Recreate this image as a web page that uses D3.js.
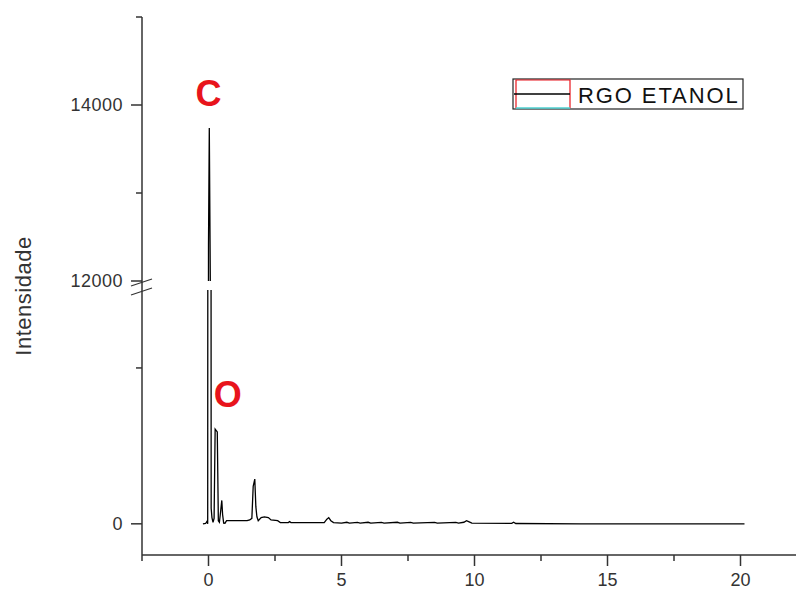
<!DOCTYPE html>
<html>
<head>
<meta charset="utf-8">
<script src="https://cdn.jsdelivr.net/npm/d3@7"></script>
<style>
  body { margin: 0; background: #fff; }
  text { font-family: "Liberation Sans", Arial, sans-serif; }
</style>
</head>
<body>
<div id="chart"></div>
<script>
// spectrum (energy, counts)
const energy = [-0.21, -0.11, -0.06, -0.03, 0.0, 0.03, 0.07, 0.1, 0.13, 0.17, 0.21, 0.25, 0.33, 0.37, 0.41, 0.44, 0.5, 0.53, 0.57, 0.62,
  0.68, 1.0, 1.45, 1.55, 1.63, 1.68, 1.74, 1.78, 1.82, 1.87, 1.98, 2.1, 2.25, 2.35, 2.6, 2.7, 3.0, 3.05, 3.1,
  4.35, 4.45, 4.52, 4.6, 4.7, 5.0, 5.2, 5.3, 5.6, 5.7, 6.0, 6.1, 6.5, 6.6, 7.1, 7.2, 7.6, 7.7, 8.5, 8.6, 9.3, 9.4,
  9.6, 9.7, 9.8, 9.9, 11.4, 11.47, 11.55, 14.0, 20.15];
const counts = [0, 2, 15, 0, 12420, 13740, 11900, 100, 40, 10, 35, 608, 590, 20, 10, 55, 150, 60, 5, 4,
  20, 20, 20, 25, 35, 240, 287, 110, 45, 20, 40, 45, 40, 25, 20, 8, 8, 14, 8,
  8, 30, 40, 20, 8, 5, 10, 4, 9, 4, 10, 4, 9, 4, 10, 4, 9, 4, 9, 4, 9, 4,
  10, 20, 12, 4, 3, 10, 2, 0, 0];

const xTicks = [0, 5, 10, 15, 20];
const xMinor = [-2.5, 2.5, 7.5, 12.5, 17.5, 22.5];
const yLowTicks = [0];
const yLowMinor = [1000];
const yUpTicks = [12000, 14000];
const yUpMinor = [13000, 15000];
const peakLabels = [{ name: "C", e: 0.0, v: 14130, seg: "up" }, { name: "O", e: 0.72, v: 830, seg: "low" }];
const seriesName = "RGO ETANOL";

const width = 796, height = 590;
const axisLeft = 142, axisBottom = 555;

const svg = d3.select("#chart").append("svg")
  .attr("width", width)
  .attr("height", height);

const x = d3.scaleLinear([-2.5, 22.5], [axisLeft, 807]);
const yLow = d3.scaleLinear([-200, 1500], [axisBottom, 290]);
const yUp = d3.scaleLinear([12000, 15000], [281, 17]);

// clip regions for the two segments of the broken axis
const defs = svg.append("defs");
defs.append("clipPath").attr("id", "clipLow")
  .append("rect").attr("x", axisLeft).attr("y", 290).attr("width", width).attr("height", axisBottom - 290);
defs.append("clipPath").attr("id", "clipUp")
  .append("rect").attr("x", axisLeft).attr("y", 17).attr("width", width).attr("height", 281 - 17);

const pts = energy.map((e, i) => [e, counts[i]]);

svg.append("path")
  .datum(pts)
  .attr("clip-path", "url(#clipLow)")
  .attr("fill", "none")
  .attr("stroke", "#000")
  .attr("stroke-width", 1.3)
  .attr("d", d3.line().x(d => x(d[0])).y(d => yLow(d[1])));

svg.append("path")
  .datum(pts)
  .attr("clip-path", "url(#clipUp)")
  .attr("fill", "none")
  .attr("stroke", "#000")
  .attr("stroke-width", 1.3)
  .attr("d", d3.line().x(d => x(d[0])).y(d => yUp(d[1])));

// axes
const axisColor = "#333";
const gx = svg.append("g").attr("transform", `translate(0,${axisBottom})`);
gx.append("line").attr("x1", axisLeft).attr("x2", 807).attr("stroke", axisColor).attr("stroke-width", 1.5);
gx.selectAll("line.maj").data(xTicks).join("line")
  .attr("x1", d => x(d)).attr("x2", d => x(d)).attr("y2", 11)
  .attr("stroke", axisColor).attr("stroke-width", 1.5);
gx.selectAll("line.min").data(xMinor).join("line")
  .attr("x1", d => x(d)).attr("x2", d => x(d)).attr("y2", 6)
  .attr("stroke", axisColor).attr("stroke-width", 1.5);
gx.selectAll("text").data(xTicks).join("text")
  .attr("x", d => x(d)).attr("y", 31)
  .attr("text-anchor", "middle")
  .attr("font-size", 18)
  .attr("fill", axisColor)
  .text(d => d);

const gy = svg.append("g");
gy.append("line").attr("x1", axisLeft).attr("x2", axisLeft).attr("y1", 17).attr("y2", axisBottom)
  .attr("stroke", axisColor).attr("stroke-width", 1.5);

function yTicks(scale, major, minor) {
  gy.selectAll(null).data(major).join("line")
    .attr("x1", axisLeft - 11).attr("x2", axisLeft)
    .attr("y1", d => scale(d)).attr("y2", d => scale(d))
    .attr("stroke", axisColor).attr("stroke-width", 1.5);
  gy.selectAll(null).data(minor).join("line")
    .attr("x1", axisLeft - 6).attr("x2", axisLeft)
    .attr("y1", d => scale(d)).attr("y2", d => scale(d))
    .attr("stroke", axisColor).attr("stroke-width", 1.5);
  gy.selectAll(null).data(major).join("text")
    .attr("x", axisLeft - 19).attr("y", d => scale(d))
    .attr("dy", "0.35em")
    .attr("text-anchor", "end")
    .attr("font-size", 18)
    .attr("letter-spacing", 0.5)
    .attr("fill", axisColor)
    .text(d => d);
}
yTicks(yLow, yLowTicks, yLowMinor);
yTicks(yUp, yUpTicks, yUpMinor);

// break marks
[283, 292].forEach(yb => {
  gy.append("line")
    .attr("x1", axisLeft - 11).attr("x2", axisLeft + 10)
    .attr("y1", yb + 3).attr("y2", yb - 4)
    .attr("stroke", axisColor).attr("stroke-width", 1.3);
});

svg.append("text")
  .attr("transform", "translate(31,296) rotate(-90)")
  .attr("text-anchor", "middle")
  .attr("font-size", 22)
  .attr("letter-spacing", 0.5)
  .attr("fill", axisColor)
  .text("Intensidade");

// element labels
svg.selectAll("text.peak").data(peakLabels).join("text")
  .attr("class", "peak")
  .attr("x", d => x(d.e))
  .attr("y", d => (d.seg === "up" ? yUp(d.v) : yLow(d.v)))
  .attr("dy", "0.35em")
  .attr("text-anchor", "middle")
  .attr("font-size", 36)
  .attr("font-weight", "bold")
  .attr("fill", "#e8141c")
  .text(d => d.name);

// legend
const lg = svg.append("g").attr("transform", "translate(513,79)");
lg.append("rect").attr("width", 230).attr("height", 30)
  .attr("fill", "#fff").attr("stroke", "#222").attr("stroke-width", 1.2);
lg.append("path").attr("d", "M3,29V1H57V29")
  .attr("fill", "none").attr("stroke", "#e8141c").attr("stroke-width", 1.2);
lg.append("line").attr("x1", 3).attr("x2", 57).attr("y1", 29).attr("y2", 29)
  .attr("stroke", "#4fd0d0").attr("stroke-width", 1.5);
lg.append("line").attr("x1", 1).attr("x2", 57).attr("y1", 15).attr("y2", 15)
  .attr("stroke", "#000").attr("stroke-width", 1.3);
lg.append("text").attr("x", 65).attr("y", 24)
  .attr("font-size", 22)
  .attr("letter-spacing", 1.9)
  .attr("fill", "#111")
  .text(seriesName);
</script>
</body>
</html>
